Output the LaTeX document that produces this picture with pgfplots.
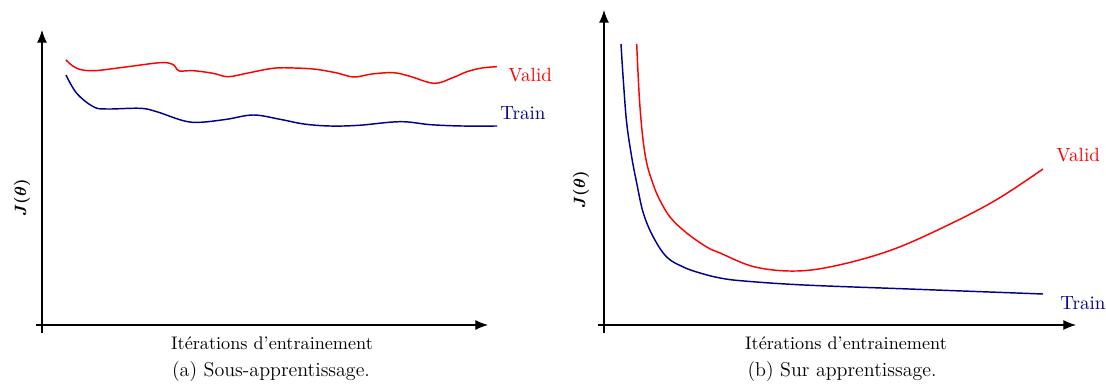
\documentclass[border=0pt]{standalone}
\usepackage{amsmath}
\usepackage{pgfplots}
\pgfplotsset{compat=1.18}
\usetikzlibrary{arrows.meta}
\definecolor{trainblue}{RGB}{0,0,140}
\definecolor{validred}{RGB}{255,0,0}
\pgfplotsset{
  curveaxis/.style={
    x=0.55pt, y=0.55pt,
    axis lines=middle,
    xtick=\empty, ytick=\empty,
    enlargelimits=false,
    clip=false,
    anchor=south west,
    axis line style={line width=0.6pt},
    every inner x axis line/.append style={-{Latex[length=7pt,width=5.5pt]}},
    every inner y axis line/.append style={-{Latex[length=7pt,width=5.5pt]}},
  },
}
\begin{document}
\begin{tikzpicture}
\useasboundingbox (0,0) rectangle (608.3pt,211.75pt);
% ---------- (a) ----------
\begin{axis}[curveaxis, at={(19.8pt,28.6pt)}, xmin=-6, xmax=446, ymin=-8, ymax=295]
\addplot[validred, line width=0.8pt, smooth, tension=0.6] coordinates {
(24,265) (34.7,256.7) (51.3,254.3) (81.3,257.7) (118,262.3) (129.7,261) (133.5,258) (137.3,254) (151.3,254.3) (171,251.7) (186,248.3) (204.7,251.7) (231,256.7) (252,257) (274,255.7) (295,252) (312,248) (330,251) (351,252.3) (367,249) (392,241.7) (410,247) (425,253.3) (440,257) (455,258.3)
};
\addplot[trainblue, line width=0.8pt, smooth, tension=0.6] coordinates {
(24,250) (34.7,231.7) (51.3,218.3) (64.7,216) (98,216.7) (114.7,213.3) (141.3,204.3) (158,202.7) (184.7,205.7) (211.3,210) (238,205.7) (262,201) (288,199) (317,199.7) (358,203.3) (388.7,200.3) (420,199) (455,199)
};
\node[anchor=west, text=validred, font=\fontsize{10.5}{12}\selectfont] at (axis cs:460,250) {Valid};
\node[anchor=west, text=trainblue, font=\fontsize{10.5}{12}\selectfont] at (axis cs:452,212) {Train};
\node[rotate=90, font=\fontsize{9}{11}\selectfont] at (axis cs:-20,127) {$\boldsymbol{J(\theta)}$};
\node[font=\fontsize{10}{12}\selectfont] at (axis cs:230,-18) {Itérations d'entrainement};
\node[font=\fontsize{11}{13}\selectfont] at (axis cs:229,-47) {(a) Sous-apprentissage.};
\end{axis}
% ---------- (b) ----------
\begin{axis}[curveaxis, at={(328.9pt,28.6pt)}, xmin=-6, xmax=472, ymin=-8, ymax=315]
\addplot[trainblue, line width=0.8pt, smooth, tension=0.6] coordinates {
(17,281) (19.3,245) (22.7,202) (27.7,168) (32.7,142) (39.3,112) (49.3,88) (62.7,68) (79.3,58) (96,52) (116,47) (140,44) (200,40) (305,36) (439,31)
};
\addplot[validred, line width=0.8pt, smooth, tension=0.6] coordinates {
(32.7,281) (35.3,228) (38.7,188) (42.7,162) (47.7,145) (54.3,128) (66,108) (82.7,92) (102.7,78) (116,72) (151,58) (193,54) (235,60) (287.5,75) (340,98) (392,125) (439,156)
};
\node[anchor=west, text=validred, font=\fontsize{10.5}{12}\selectfont] at (axis cs:446,170) {Valid};
\node[anchor=west, text=trainblue, font=\fontsize{10.5}{12}\selectfont] at (axis cs:450,22) {Train};
\node[rotate=90, font=\fontsize{9}{11}\selectfont] at (axis cs:-23,135) {$\boldsymbol{J(\theta)}$};
\node[font=\fontsize{10}{12}\selectfont] at (axis cs:242,-18) {Itérations d'entrainement};
\node[font=\fontsize{11}{13}\selectfont] at (axis cs:238,-47) {(b) Sur apprentissage.};
\end{axis}
\end{tikzpicture}
\end{document}
